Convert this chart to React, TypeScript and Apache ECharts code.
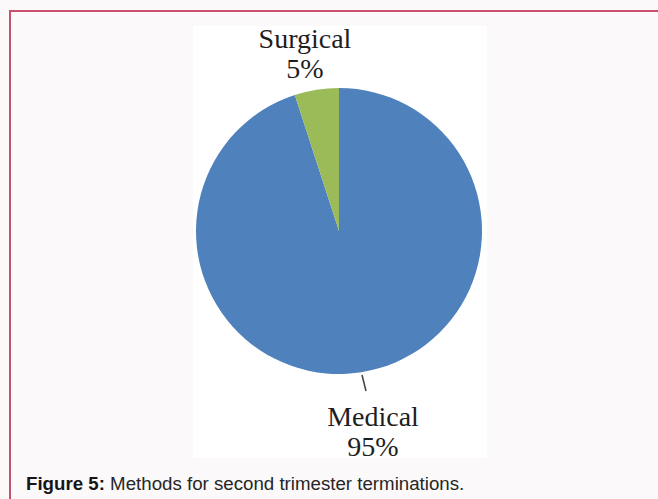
import React, { useEffect, useRef } from "react";
import * as echarts from "echarts";

const categories = ["Medical", "Surgical"];
const values = [95, 5];
const sliceColors = ["#4f81bd", "#9bbb59"];
const captionBold = "Figure 5:";
const captionText = " Methods for second trimester terminations.";

export default function App() {
  const ref = useRef<HTMLDivElement>(null);
  useEffect(() => {
    if (!ref.current) return;
    const chart = echarts.init(ref.current, undefined, { renderer: "svg" });
    const labelPos: Record<string, [number, number]> = {
      Surgical: [305, 53],
      Medical: [373, 431],
    };
    chart.setOption({
      animation: false,
      backgroundColor: "#fbf9fa",
      graphic: [
        { type: "rect", z: -10, shape: { x: 193, y: 26, width: 294, height: 432 }, style: { fill: "#ffffff" } },
        { type: "line", shape: { x1: 9, y1: 11, x2: 658, y2: 11 }, style: { stroke: "#c9506f", lineWidth: 2 } },
        { type: "line", shape: { x1: 10, y1: 10, x2: 10, y2: 499 }, style: { stroke: "#c9506f", lineWidth: 2 } },
        { type: "line", shape: { x1: 362, y1: 375, x2: 366, y2: 391 }, style: { stroke: "#444", lineWidth: 1.5 } },
        {
          type: "text",
          x: 26,
          y: 483,
          style: {
            text: "{b|" + captionBold + "}{n|" + captionText + "}",
            verticalAlign: "middle",
            rich: {
              b: { fontFamily: "Liberation Sans, Arial, sans-serif", fontSize: 18.7, fontWeight: "bold", fill: "#151515" },
              n: { fontFamily: "Liberation Sans, Arial, sans-serif", fontSize: 18.7, fill: "#262626" },
            },
          },
        },
      ],
      series: [
        {
          type: "pie",
          center: [339, 231],
          radius: 143,
          startAngle: 90,
          clockwise: true,
          silent: true,
          itemStyle: { borderWidth: 0 },
          label: {
            show: true,
            formatter: "{b}\n{d}%",
            fontFamily: "Liberation Serif, Times New Roman, serif",
            fontSize: 28,
            lineHeight: 30,
            color: "#1e1e1e",
            align: "center",
          },
          labelLine: { show: false },
          labelLayout: (params: any) => {
            const name = categories[params.dataIndex];
            const p = labelPos[name];
            return { x: p[0], y: p[1], align: "center", verticalAlign: "middle" };
          },
          data: categories.map((c, i) => ({ name: c, value: values[i], itemStyle: { color: sliceColors[i] } })),
        },
      ],
    });
    return () => chart.dispose();
  }, []);
  return (
    <div style={{ position: "absolute", left: 0, top: 0, width: 658, height: 499 }}>
      <div ref={ref} style={{ width: 658, height: 499 }} />
    </div>
  );
}
